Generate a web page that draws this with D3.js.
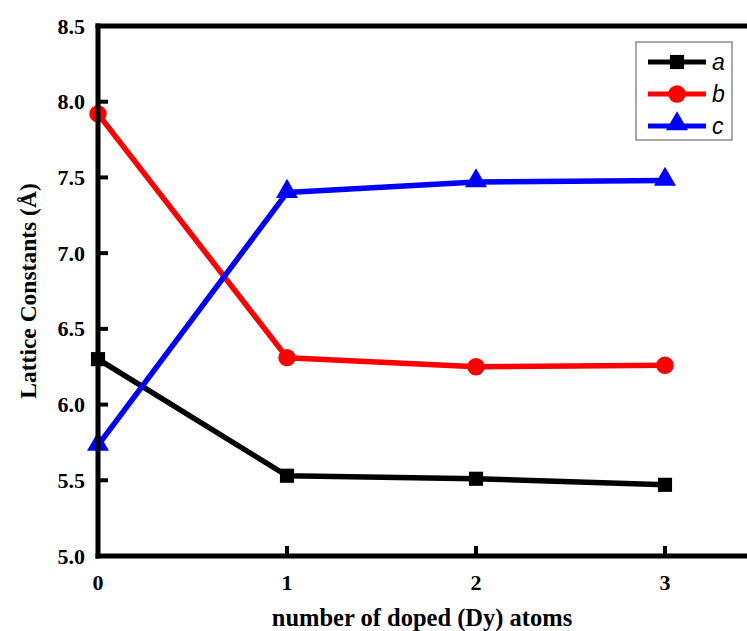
<!DOCTYPE html>
<html>
<head>
<meta charset="utf-8">
<script src="https://cdn.jsdelivr.net/npm/d3@7/dist/d3.min.js"></script>
<style>
  html, body { margin: 0; padding: 0; background: #fff; }
  svg { display: block; }
</style>
</head>
<body>
<div id="chart"></div>
<script>
const dopedAtoms = [0, 1, 2, 3];
const seriesA = [6.30, 5.53, 5.51, 5.47];
const seriesB = [7.92, 6.31, 6.25, 6.26];
const seriesC = [5.73, 7.40, 7.47, 7.48];
const yTicks = [5.0, 5.5, 6.0, 6.5, 7.0, 7.5, 8.0, 8.5];
const xTicks = [0, 1, 2, 3];

const series = [
  { key: "a", values: seriesA, color: "#000000", marker: "square" },
  { key: "b", values: seriesB, color: "#ff0000", marker: "circle" },
  { key: "c", values: seriesC, color: "#0000ff", marker: "triangle" },
];

const width = 747;
const height = 631;
const margin = { top: 26, left: 98, bottom: 556 };

const x = d3.scaleLinear().domain([0, 3.5]).range([margin.left, margin.left + 3.5 * 189]);
const y = d3.scaleLinear().domain([5.0, 8.5]).range([margin.bottom, margin.top]);

const svg = d3.select("#chart").append("svg")
  .attr("width", width)
  .attr("height", height);

const serif = "'Liberation Serif', 'Times New Roman', serif";

function markerPath(type) {
  if (type === "square") return d3.symbol().type(d3.symbolSquare).size(200)();
  if (type === "circle") return d3.symbol().type(d3.symbolCircle).size(240)();
  return d3.symbol().type(d3.symbolTriangle).size(210)();
}

// series lines and markers
const line = d3.line().x((d, i) => x(dopedAtoms[i])).y(d => y(d));
series.forEach(s => {
  svg.append("path")
    .attr("d", line(s.values))
    .attr("fill", "none")
    .attr("stroke", s.color)
    .attr("stroke-width", 5.5)
    .attr("stroke-linejoin", "round");
  svg.append("g").selectAll("path")
    .data(s.values)
    .join("path")
    .attr("d", markerPath(s.marker))
    .attr("transform", (d, i) => `translate(${x(dopedAtoms[i])},${y(d) + (s.marker === "triangle" ? -1 : 0)})`)
    .attr("fill", s.color);
});

// frame: left, bottom and top edges
const axisColor = "#000";
svg.append("line")
  .attr("x1", x(0)).attr("x2", x(0))
  .attr("y1", y(8.5) - 2.5).attr("y2", y(5.0) + 2.5)
  .attr("stroke", axisColor).attr("stroke-width", 5);
svg.append("line")
  .attr("x1", x(0) - 2.5).attr("x2", width)
  .attr("y1", y(5.0)).attr("y2", y(5.0))
  .attr("stroke", axisColor).attr("stroke-width", 5);
svg.append("line")
  .attr("x1", x(0) - 2.5).attr("x2", width)
  .attr("y1", y(8.5)).attr("y2", y(8.5))
  .attr("stroke", axisColor).attr("stroke-width", 5);

// y ticks (inward) and labels
svg.append("g").selectAll("line")
  .data(yTicks.filter(t => t > 5.0 && t < 8.5))
  .join("line")
  .attr("x1", x(0)).attr("x2", x(0) + 10)
  .attr("y1", d => y(d)).attr("y2", d => y(d))
  .attr("stroke", axisColor).attr("stroke-width", 4);
svg.append("g").selectAll("text")
  .data(yTicks)
  .join("text")
  .attr("x", 85)
  .attr("y", d => y(d) + 7.5)
  .attr("text-anchor", "end")
  .attr("font-family", serif)
  .attr("font-weight", "bold")
  .attr("font-size", 22)
  .text(d => d.toFixed(1));

// x ticks (inward) and labels
svg.append("g").selectAll("line")
  .data(xTicks.filter(t => t > 0))
  .join("line")
  .attr("x1", d => x(d)).attr("x2", d => x(d))
  .attr("y1", y(5.0)).attr("y2", y(5.0) - 10)
  .attr("stroke", axisColor).attr("stroke-width", 4);
svg.append("g").selectAll("text")
  .data(xTicks)
  .join("text")
  .attr("x", d => x(d))
  .attr("y", 590)
  .attr("text-anchor", "middle")
  .attr("font-family", serif)
  .attr("font-weight", "bold")
  .attr("font-size", 22)
  .text(d => d);

// axis titles
svg.append("text")
  .attr("x", 422)
  .attr("y", 626)
  .attr("text-anchor", "middle")
  .attr("font-family", serif)
  .attr("font-weight", "bold")
  .attr("font-size", 24.5)
  .text("number of doped (Dy) atoms");

svg.append("text")
  .attr("transform", `translate(36, ${(margin.top + margin.bottom) / 2}) rotate(-90)`)
  .attr("text-anchor", "middle")
  .attr("font-family", serif)
  .attr("font-weight", "bold")
  .attr("font-size", 23.5)
  .text("Lattice Constants (Å)");

// legend
const legend = svg.append("g");
legend.append("rect")
  .attr("x", 636).attr("y", 42)
  .attr("width", 96).attr("height", 98)
  .attr("fill", "#fff")
  .attr("stroke", "#555")
  .attr("stroke-width", 1);
series.forEach((s, i) => {
  const ly = 62 + i * 32;
  legend.append("line")
    .attr("x1", 648).attr("x2", 706)
    .attr("y1", ly).attr("y2", ly)
    .attr("stroke", s.color).attr("stroke-width", 5);
  legend.append("path")
    .attr("d", markerPath(s.marker))
    .attr("transform", `translate(677,${ly + (s.marker === "triangle" ? -2 : 0)})`)
    .attr("fill", s.color);
  legend.append("text")
    .attr("x", 712)
    .attr("y", ly + 8)
    .attr("font-family", "'Liberation Sans', Arial, sans-serif")
    .attr("font-style", "italic")
    .attr("font-size", 23)
    .text(s.key);
});
</script>
</body>
</html>
